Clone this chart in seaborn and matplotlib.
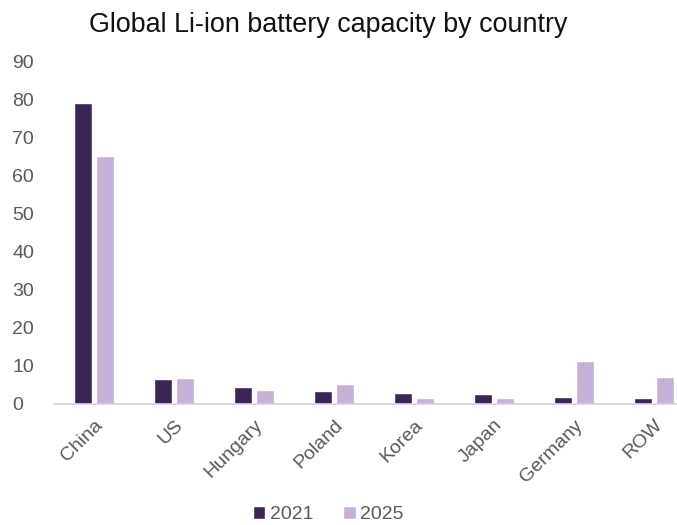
import matplotlib
matplotlib.use("Agg")
import matplotlib.pyplot as plt
import seaborn as sns
import pandas as pd

countries = ["China", "US", "Hungary", "Poland", "Korea", "Japan", "Germany", "ROW"]
cap_2021 = [79.2, 6.6, 4.5, 3.4, 2.8, 2.7, 1.9, 1.5]
cap_2025 = [65.3, 6.8, 3.7, 5.3, 1.6, 1.6, 11.3, 7.0]
years = ["2021", "2025"]
y_ticks = [0, 10, 20, 30, 40, 50, 60, 70, 80, 90]

df = pd.DataFrame({
    "country": countries * 2,
    "year": [years[0]] * len(countries) + [years[1]] * len(countries),
    "capacity": cap_2021 + cap_2025,
})

sns.set_theme(style="white")
plt.rcParams["font.family"] = ["Liberation Sans", "DejaVu Sans"]

fig = plt.figure(figsize=(6.77, 5.25), dpi=100)
ax = fig.add_axes([0.08, 0.2305, 0.92, 0.6515])

palette = {"2021": "#3c2656", "2025": "#c6b0d7"}
sns.barplot(data=df, x="country", y="capacity", hue="year", order=countries,
            hue_order=years, palette=palette, width=0.56, gap=0.2,
            saturation=1, ax=ax, legend=True)

ax.set_ylim(0, 90)
ax.set_xlim(-0.5, 7.29)
ax.set_yticks(y_ticks)
ax.set_xlabel("")
ax.set_ylabel("")
ax.tick_params(axis="y", labelsize=14, labelcolor="#595959", length=0, pad=30)
ax.tick_params(axis="x", labelsize=14, labelcolor="#595959", length=0, pad=9)
plt.setp(ax.get_xticklabels(), rotation=45, ha="right", rotation_mode="anchor")
for lbl in ax.get_yticklabels():
    lbl.set_horizontalalignment("left")

for side in ["top", "right", "left"]:
    ax.spines[side].set_visible(False)
ax.spines["bottom"].set_color("#d8cfe0")
ax.spines["bottom"].set_linewidth(1.2)

fig.text(0.485, 0.952, "Global Li-ion battery capacity by country",
         ha="center", va="center", fontsize=19.4, color="#111111")

handles, labels = ax.get_legend_handles_labels()
ax.get_legend().remove()
fig.legend(handles, labels, loc="center", bbox_to_anchor=(0.485, 0.02), ncol=2,
           frameon=False, fontsize=14, labelcolor="#595959",
           handlelength=0.65, handleheight=0.65, handletextpad=0.25,
           columnspacing=1.5)

fig.savefig("out.png", dpi=100)
